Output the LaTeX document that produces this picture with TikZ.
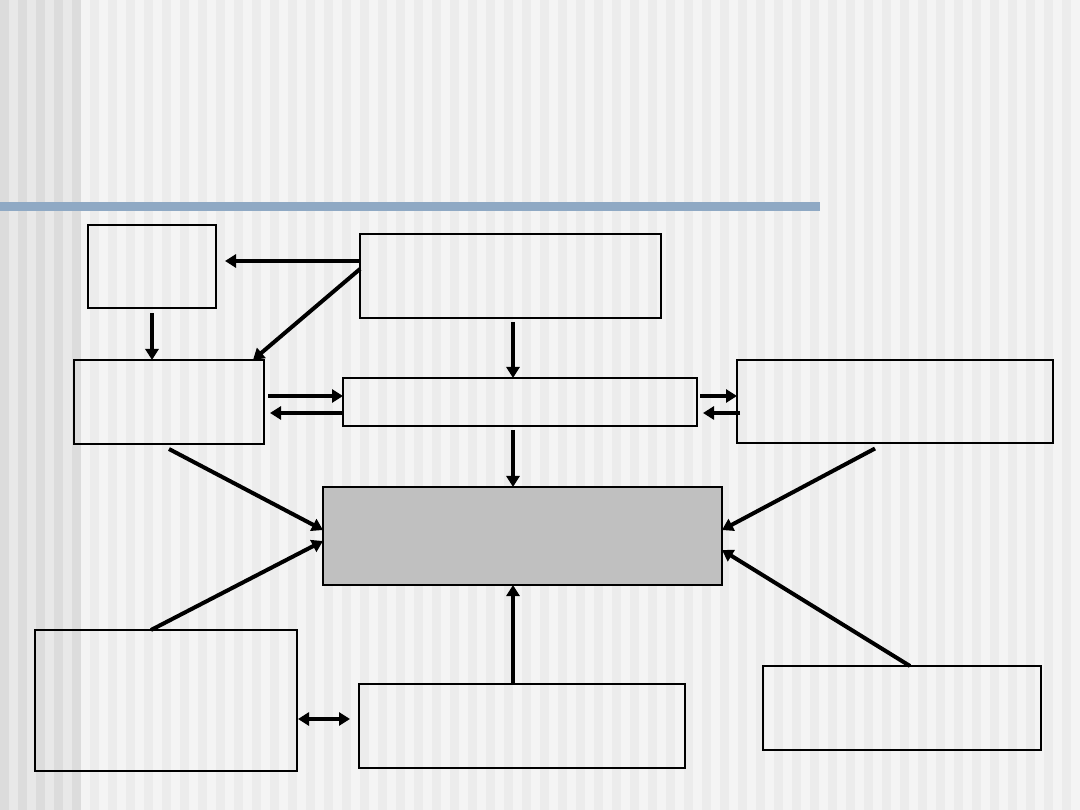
\documentclass[tikz,border=0pt]{standalone}
\usetikzlibrary{arrows.meta}
\definecolor{stripeA}{HTML}{F4F4F4}
\definecolor{stripeB}{HTML}{ECECEC}
\definecolor{stripeC}{HTML}{E8E8E8}
\definecolor{stripeD}{HTML}{DCDCDC}
\definecolor{barblue}{HTML}{8FA9C4}
\definecolor{boxgray}{HTML}{C0C0C0}
\begin{document}
\begin{tikzpicture}[x=1pt,y=-1pt,
  box/.style={draw=black,line width=1.4pt,inner sep=0pt,outer sep=0pt},
  arr/.style={line width=4pt,-{Triangle[length=11pt,width=13pt]}},
  darr/.style={line width=4pt,{Triangle[length=11pt,width=13pt]}-{Triangle[length=11pt,width=13pt]}}]
\useasboundingbox (0,0) rectangle (1080,810);
% background stripes
\fill[stripeA] (0,0) rectangle (1080,810);
\foreach \k in {0,...,54} {\fill[stripeB] ({90+18*\k},0) rectangle ({99+18*\k},810);}
\fill[stripeC] (0,0) rectangle (81,810);
\foreach \k in {0,...,4} {\fill[stripeD] ({18*\k},0) rectangle ({9+18*\k},810);}
% title bar
\fill[barblue] (0,202) rectangle (820,211);
% boxes
\node[box,minimum width=128pt,minimum height=83pt] (A) at (152,266.5) {};
\node[box,minimum width=301pt,minimum height=84pt] (B) at (510.5,276) {};
\node[box,minimum width=190pt,minimum height=84pt] (C) at (169,402) {};
\node[box,minimum width=354pt,minimum height=48pt] (D) at (520,402) {};
\node[box,minimum width=316pt,minimum height=83pt] (E) at (895,401.5) {};
\node[box,fill=boxgray,minimum width=399pt,minimum height=98pt] (F) at (522.5,536) {};
\node[box,minimum width=262pt,minimum height=141pt] (G) at (166,700.5) {};
\node[box,minimum width=326pt,minimum height=84pt] (H) at (522,726) {};
\node[box,minimum width=278pt,minimum height=84pt] (I) at (902,708) {};
% connectors
\draw[arr] ([yshift=15pt]B.west) -- ([xshift=9pt,yshift=5.5pt]A.east);
\draw[arr] ([yshift=7pt]B.west) -- ([xshift=84pt]C.north);
\draw[arr] ([yshift=-5pt]A.south) -- ([xshift=-17pt]C.north);
\draw[arr] ([xshift=4pt,yshift=6pt]C.east) -- ([yshift=6pt]D.west);
\draw[arr] ([yshift=-11pt]D.west) -- ([xshift=6pt,yshift=-11pt]C.east);
\draw[arr] ([xshift=2.5pt,yshift=-4pt]B.south) -- ([xshift=-7pt]D.north);
\draw[arr] ([xshift=3pt,yshift=6pt]D.east) -- ([yshift=5.5pt]E.west);
\draw[arr] ([xshift=3pt,yshift=-11.5pt]E.west) -- ([xshift=6pt,yshift=-11pt]D.east);
\draw[arr] ([xshift=-7pt,yshift=-4pt]D.south) -- ([xshift=-9.5pt]F.north);
\draw[arr] ([yshift=-5pt]C.south) -- ([yshift=6pt]F.west);
\draw[arr] ([xshift=-15pt]G.north) -- ([yshift=-5pt]F.west);
\draw[arr] ([xshift=-20pt,yshift=-5.5pt]E.south) -- ([yshift=6pt]F.east);
\draw[arr] ([xshift=8pt]I.north) -- ([yshift=-14pt]F.east);
\draw[arr] ([xshift=-9pt]H.north) -- ([xshift=-9.5pt]F.south);
\draw[darr] ([xshift=1pt,yshift=-18.5pt]G.east) -- ([xshift=-9pt,yshift=7pt]H.west);
\end{tikzpicture}
\end{document}
